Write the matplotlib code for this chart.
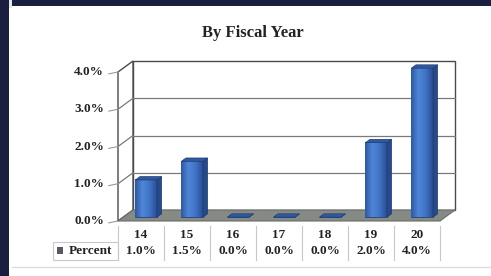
import numpy as np
import matplotlib
matplotlib.use("Agg")
import matplotlib.pyplot as plt
from matplotlib.patches import Polygon, Rectangle
import matplotlib.transforms as mtransforms

# ---- data ----
categories = ["14", "15", "16", "17", "18", "19", "20"]
percent = [1.0, 1.5, 0.0, 0.0, 0.0, 2.0, 4.0]
value_labels = ["1.0%", "1.5%", "0.0%", "0.0%", "0.0%", "2.0%", "4.0%"]
yticks = [0.0, 1.0, 2.0, 3.0, 4.0]
ytick_labels = ["0.0%", "1.0%", "2.0%", "3.0%", "4.0%"]
title = "By Fiscal Year"
series_name = "Percent"

W, H = 491, 276
fig = plt.figure(figsize=(W / 100, H / 100), dpi=100)
fig.patch.set_facecolor("white")
plt.rcParams["font.family"] = ["Liberation Serif", "DejaVu Serif"]

def fx(px):
    return px / W

def fy(py):
    return 1 - py / H

# slide frame (dark navy border top & left)
fig.patches.append(Rectangle((0, 0), fx(9), 1, transform=fig.transFigure,
                             facecolor="#1b1f3f", edgecolor="none", zorder=0))
fig.patches.append(Rectangle((0, fy(6)), 1, 1 - fy(6), transform=fig.transFigure,
                             facecolor="#1b1f3f", edgecolor="none", zorder=0))
fig.patches.append(Rectangle((fx(9), fy(8)), fx(3), fy(10) - fy(276), transform=fig.transFigure,
                             facecolor="#e6e7ec", edgecolor="none", zorder=0))
fig.lines.append(plt.Line2D([fx(12), 1], [fy(267), fy(267)], transform=fig.transFigure,
                            color="#dcdcdc", lw=1))

# front plane axes
left, right, top, bottom = 118, 440, 72, 221
ax = fig.add_axes([fx(left), fy(bottom), fx(right - left), fy(top) - fy(bottom)])
n = len(categories)
ax.set_xlim(-0.5, n - 0.5)
ax.set_ylim(0, 4)
ax.axis("off")

DX = 15 / 46.0      # depth offset in category units
DY = 11 / 37.25     # depth offset in percent units
x0w, x1w = -0.5, n - 0.5
ymax = 4.0
edge = "#4a4a4a"
fs = 9.5

# back wall
ax.add_patch(Polygon([(x0w + DX, DY), (x1w + DX, DY), (x1w + DX, ymax + DY), (x0w + DX, ymax + DY)],
                     closed=True, facecolor="white", edgecolor=edge, lw=1.0, clip_on=False, zorder=1))
# side wall
ax.add_patch(Polygon([(x0w, 0), (x0w + DX, DY), (x0w + DX, ymax + DY), (x0w, ymax)],
                     closed=True, facecolor="white", edgecolor=edge, lw=1.0, clip_on=False, zorder=1))
# gridlines
for v in yticks[1:-1]:
    ax.plot([x0w + DX, x1w + DX], [v + DY, v + DY], color="#7a7a7a", lw=0.9, clip_on=False, zorder=2)
    ax.plot([x0w, x0w + DX], [v, v + DY], color="#7a7a7a", lw=0.9, clip_on=False, zorder=2)
# floor
ax.add_patch(Polygon([(x0w, 0), (x1w, 0), (x1w + DX, DY), (x0w + DX, DY)],
                     closed=True, facecolor="#858a84", edgecolor="#6b6f6a", lw=0.8, clip_on=False, zorder=3))

# y tick labels with small ticks
for v, lab in zip(yticks, ytick_labels):
    ax.text(x0w - 0.3, v, lab, ha="right", va="center", fontsize=fs, fontweight="bold",
            color="#222222", clip_on=False)
    ax.plot([x0w - 0.2, x0w], [v - 0.05, v], color="#999999", lw=0.8, clip_on=False, zorder=2)

# bars
w = 0.47
f = 0.35
d = 0.30
xs = np.arange(n)
bars = ax.bar(xs + f * DX, percent, width=w, bottom=f * DY, color="#3b6dc0",
              edgecolor="#23437e", lw=0.6, zorder=5, clip_on=False)
grad = np.linspace(0, 1, 64)
cm = matplotlib.colors.LinearSegmentedColormap.from_list(
    "bargrad", ["#2d58a4", "#4f86d8", "#3f73c6", "#2a4f93"])
for i, (b, v) in enumerate(zip(bars, percent)):
    bx = b.get_x()
    by = b.get_y()
    if v > 0:
        im = ax.imshow(grad[None, :], cmap=cm, aspect="auto",
                       extent=(bx, bx + w, by, by + v), zorder=5.5, clip_on=False)
        im.set_clip_path(b)
    # side face
    ax.add_patch(Polygon([(bx + w, by), (bx + w + d * DX, by + d * DY),
                          (bx + w + d * DX, by + v + d * DY), (bx + w, by + v)],
                         closed=True, facecolor="#264a8c", edgecolor="#1d3a6e", lw=0.5,
                         clip_on=False, zorder=6))
    # top face
    ax.add_patch(Polygon([(bx, by + v), (bx + w, by + v), (bx + w + d * DX, by + v + d * DY),
                          (bx + d * DX, by + v + d * DY)],
                         closed=True, facecolor="#2f5aa2", edgecolor="#1d3a6e", lw=0.5,
                         clip_on=False, zorder=6))

# data table under the chart
bt = mtransforms.blended_transform_factory(ax.transData, fig.transFigure)
row1, row2 = 235, 251
for i, (c, lab) in enumerate(zip(categories, value_labels)):
    ax.text(i, fy(row1), c, transform=bt, ha="center", va="center", fontsize=fs,
            fontweight="bold", color="#222222")
    ax.text(i, fy(row2), lab, transform=bt, ha="center", va="center", fontsize=fs,
            fontweight="bold", color="#222222")
for i in range(n + 1):
    ax.plot([i - 0.5, i - 0.5], [fy(226), fy(260)], transform=bt, color="#c8c8c8",
            lw=0.8, clip_on=False)
# series label cell
fig.patches.append(Rectangle((fx(53), fy(260)), fx(118 - 53), fy(242) - fy(260),
                             transform=fig.transFigure, facecolor="none",
                             edgecolor="#c8c8c8", lw=0.8))
fig.patches.append(Rectangle((fx(57), fy(254)), fx(6), fy(247) - fy(254),
                             transform=fig.transFigure, facecolor="#555a66",
                             edgecolor="none"))
fig.text(fx(90), fy(row2), series_name, ha="center", va="center", fontsize=fs,
         fontweight="bold", color="#222222")

# title
fig.text(fx(253), fy(33), title, ha="center", va="center", fontsize=12,
         fontweight="bold", color="#222222")

fig.savefig("out.png", dpi=100, facecolor=fig.get_facecolor())
